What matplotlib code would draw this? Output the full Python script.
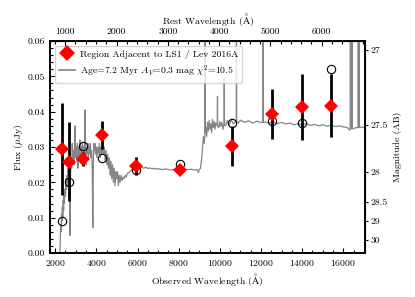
import numpy as np
import matplotlib
matplotlib.use("Agg")
import matplotlib.pyplot as plt
from matplotlib.ticker import AutoMinorLocator, NullLocator, FixedLocator, FixedFormatter
from matplotlib.lines import Line2D

plt.rcParams.update({
    "font.family": "serif",
    "font.serif": ["cmr10"],
    "mathtext.fontset": "cm",
    "axes.formatter.use_mathtext": True,
    "font.size": 7,
})

# ---------------- data ----------------
redshift = 1.49

obs_wave = [2354, 2680, 3345, 4296, 5932, 8068, 10578, 12549, 13976, 15398]
obs_flux = [0.0294, 0.0259, 0.0266, 0.0334, 0.0247, 0.0236, 0.0303, 0.0394, 0.0414, 0.0417]
obs_err = [0.0130, 0.0113, 0.0021, 0.0040, 0.0026, 0.0010, 0.0057, 0.0071, 0.0094, 0.0090]
model_flux = [0.0092, 0.0201, 0.0303, 0.0270, 0.0235, 0.0253, 0.0367, 0.0375, 0.0369, 0.0520]

spec_wave = [
    2230, 2250, 2270, 2290, 2310, 2330, 2350, 2370, 2390, 2410, 2430, 2450, 2470, 2500,
    2520, 2550, 2580, 2600, 2630, 2650, 2680, 2700, 2720, 2740, 2770, 2800, 2830, 2860,
    2890, 2920, 2950, 2970, 2990, 3020, 3050, 3080, 3110, 3140, 3170, 3200, 3230, 3260,
    3290, 3320, 3350, 3380, 3410, 3440, 3456, 3475, 3500, 3530, 3560, 3590, 3620, 3650,
    3680, 3710, 3740, 3770, 3800, 3830, 3850, 3870, 3900, 3930, 3960, 3990, 4030, 4070,
    4110, 4150, 4190, 4230, 4270, 4310, 4350, 4390, 4430, 4470, 4510, 4550, 4590, 4630,
    4670, 4710, 4750, 4790, 4830, 4870, 4910, 4950, 4990, 5030, 5070, 5110, 5150, 5200,
    5250, 5300, 5350, 5400, 5450, 5500, 5600, 5700, 5800, 5900, 6000, 6100, 6200, 6300,
    6400, 6500, 6600, 6700, 6800, 6900, 7000, 7200, 7400, 7600, 7800, 8000, 8200, 8400,
    8600, 8800, 8900, 8960, 9000, 9060, 9120, 9160, 9200, 9240, 9270, 9280, 9290, 9320,
    9360, 9400, 9440, 9480, 9520, 9560, 9600, 9640, 9680, 9720, 9760, 9800, 9875, 9885,
    9895, 9950, 10000, 10050, 10100, 10150, 10204, 10214, 10224, 10280, 10350, 10450, 10550,
    10650, 10750, 10797, 10807, 10817, 10900, 11000, 11200, 11400, 11600, 11800, 12000,
    12094, 12104, 12114, 12200, 12400, 12600, 12800, 13000, 13200, 13400, 13600, 13800,
    14000, 14200, 14400, 14600, 14800, 15000, 15200, 15400, 15600, 15800, 16000, 16200,
    16300, 16332, 16342, 16352, 16410, 16420, 16430, 16500, 16600, 16715, 16725, 16735,
    16750, 16760, 16770, 16850, 17050,
]
spec_flux = [
    0.000, 0.004, 0.008, 0.006, 0.011, 0.009, 0.013, 0.010, 0.015, 0.012, 0.017, 0.014, 0.018, 0.016,
    0.021, 0.018, 0.022, 0.019, 0.024, 0.021, 0.026, 0.016, 0.005, 0.020, 0.027, 0.024, 0.031, 0.026,
    0.029, 0.025, 0.034, 0.036, 0.027, 0.030, 0.026, 0.031, 0.024, 0.030, 0.027, 0.032, 0.028, 0.030,
    0.026, 0.031, 0.028, 0.030, 0.027, 0.034, 0.0405, 0.029, 0.025, 0.030, 0.028, 0.031, 0.027, 0.030,
    0.028, 0.031, 0.027, 0.029, 0.024, 0.0072, 0.022, 0.031, 0.029, 0.031, 0.028, 0.030, 0.027, 0.030,
    0.028, 0.031, 0.027, 0.030, 0.028, 0.031, 0.028, 0.030, 0.026, 0.029, 0.025, 0.028, 0.024, 0.027,
    0.022, 0.026, 0.021, 0.025, 0.020, 0.024, 0.019, 0.023, 0.021, 0.023, 0.019, 0.022, 0.020, 0.022,
    0.0205, 0.0215, 0.021, 0.022, 0.0215, 0.0225, 0.0228, 0.0235, 0.024, 0.0243, 0.0245, 0.0242, 0.0244, 0.024,
    0.0243, 0.0239, 0.0241, 0.0238, 0.024, 0.0237, 0.0239, 0.0236, 0.0238, 0.0235, 0.0237, 0.0236, 0.0238, 0.0236,
    0.0237, 0.0235, 0.0236, 0.0228, 0.0236, 0.0240, 0.0270, 0.0300, 0.0330, 0.0310, 0.0330, 0.0800, 0.0340, 0.0355,
    0.0330, 0.0370, 0.0345, 0.0375, 0.0350, 0.0365, 0.0340, 0.0378, 0.0355, 0.0372, 0.0350, 0.0368, 0.0360, 0.0443,
    0.0360, 0.0355, 0.0372, 0.0358, 0.0370, 0.0350, 0.0365, 0.0495, 0.0362, 0.0360, 0.0375, 0.0362, 0.0378,
    0.0365, 0.0372, 0.0370, 0.0800, 0.0370, 0.0368, 0.0376, 0.0370, 0.0374, 0.0368, 0.0373, 0.0369,
    0.0370, 0.0800, 0.0370, 0.0371, 0.0368, 0.0372, 0.0366, 0.0370, 0.0365, 0.0368, 0.0363, 0.0366,
    0.0362, 0.0366, 0.0361, 0.0364, 0.0360, 0.0363, 0.0359, 0.0362, 0.0358, 0.0360, 0.0357, 0.0355,
    0.0348, 0.0350, 0.0800, 0.0352, 0.0352, 0.0800, 0.0352, 0.0352, 0.0355, 0.0355, 0.0800, 0.0355,
    0.0355, 0.0800, 0.0356, 0.0356, 0.0355,
]

mag_ticks = [27, 27.5, 28, 28.5, 29, 30]
mag_labels = ["27", "27.5", "28", "28.5", "29", "30"]
rest_ticks = [1000, 2000, 3000, 4000, 5000, 6000]

data_label = "Region Adjacent to LS1 / Lev 2016A"
model_label = r"Age=7.2 Myr $A_V$=0.3 mag $\chi^2$=10.5"

# ---------------- figure ----------------
fig = plt.figure(figsize=(4.15, 2.97), dpi=100)
ax = fig.add_axes([0.1205, 0.148, 0.759, 0.714])

ax.plot(spec_wave, spec_flux, color="#858585", lw=0.9, zorder=1)
ax.errorbar(obs_wave, obs_flux, yerr=obs_err, fmt="none", ecolor="k", elinewidth=2.0,
            capsize=0, zorder=2)
ax.plot(obs_wave, model_flux, "o", mfc="none", mec="k", ms=6, mew=0.8, zorder=3)
ax.plot(obs_wave, obs_flux, "D", color="red", ms=7.5, mew=0, zorder=4)

ax.set_xlim(1750, 17050)
ax.set_ylim(0.0, 0.06)
ax.set_xticks([2000, 4000, 6000, 8000, 10000, 12000, 14000, 16000])
ax.set_yticks([0.0, 0.01, 0.02, 0.03, 0.04, 0.05, 0.06])
ax.set_yticklabels(["0.00", "0.01", "0.02", "0.03", "0.04", "0.05", "0.06"])
ax.xaxis.set_minor_locator(AutoMinorLocator(4))
ax.yaxis.set_minor_locator(AutoMinorLocator(5))
ax.tick_params(which="both", direction="in", top=False, right=False, width=0.8)
ax.tick_params(which="major", length=3.5)
ax.tick_params(which="minor", length=2)
for s in ax.spines.values():
    s.set_linewidth(1.4)

ax.set_xlabel(r"Observed Wavelength ($\mathrm{\AA}$)", labelpad=2)
ax.set_ylabel(r"Flux ($\mu$Jy)", labelpad=2)

# top: rest wavelength
top = ax.secondary_xaxis("top", functions=(lambda x: x / (1 + redshift),
                                            lambda x: x * (1 + redshift)))
top.set_xticks(rest_ticks)
top.set_xticklabels([str(t) for t in rest_ticks])
top.xaxis.set_minor_locator(AutoMinorLocator(5))
top.tick_params(which="both", direction="in", width=0.8)
top.tick_params(which="major", length=3.5)
top.tick_params(which="minor", length=2)
top.set_xlabel(r"Rest Wavelength ($\mathrm{\AA}$)", labelpad=3)


def f2m(f):
    f = np.maximum(np.asarray(f, dtype=float), 1e-6)
    return -2.5 * np.log10(f) + 23.9


def m2f(m):
    return 10 ** ((23.9 - np.asarray(m, dtype=float)) / 2.5)


right = ax.secondary_yaxis("right", functions=(f2m, m2f))
right.yaxis.set_major_locator(FixedLocator(mag_ticks))
right.yaxis.set_major_formatter(FixedFormatter(mag_labels))
right.yaxis.set_minor_locator(NullLocator())
right.tick_params(which="major", direction="out", length=2.5, width=0.8, pad=1.5)
right.set_ylabel("Magnitude (AB)", labelpad=3.5)

handles = [
    Line2D([], [], marker="D", color="red", ls="none", ms=8, mew=0),
    Line2D([], [], color="#858585", lw=1.2),
]
ax.legend(handles, [data_label, model_label], loc="upper left", handlelength=1.7,
          handletextpad=0.5, fontsize=7, borderpad=0.4, labelspacing=0.45)

fig.savefig("out.png", dpi=100)
